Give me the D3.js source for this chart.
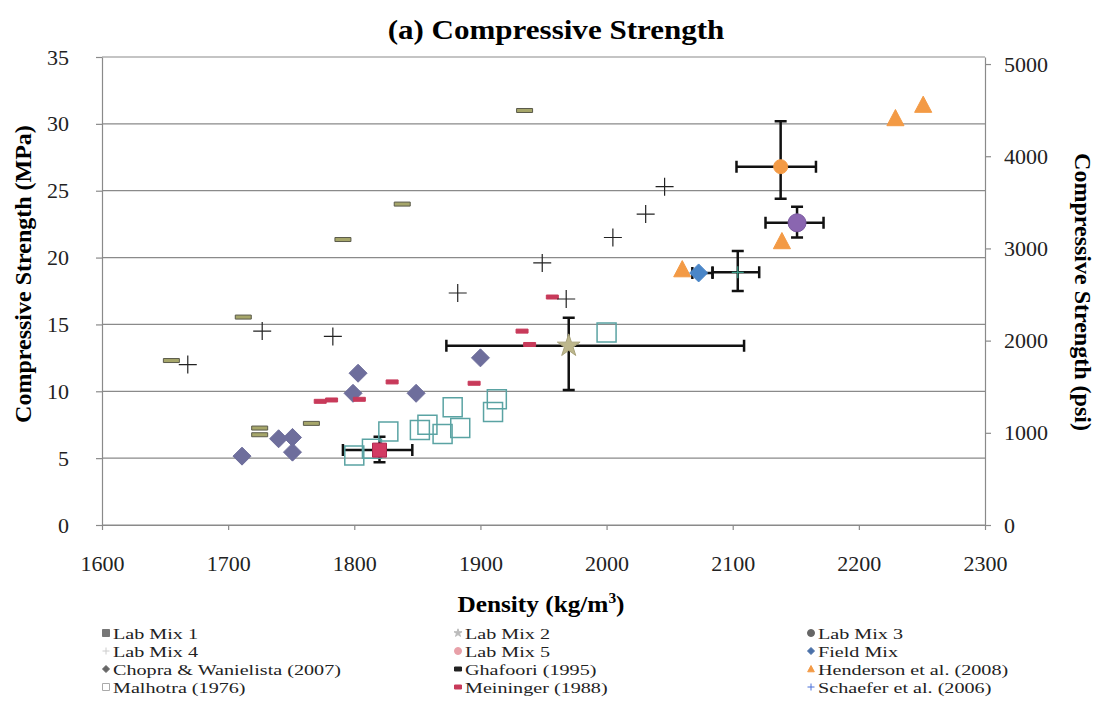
<!DOCTYPE html>
<html>
<head>
<meta charset="utf-8">
<script src="https://cdn.jsdelivr.net/npm/d3@7"></script>
<style>
  body { margin: 0; background: #fff; }
</style>
</head>
<body>
<div id="chart"></div>
<script>
// data: [density kg/m3, strength MPa]
var labMix1 = [[1820, 5.6]];
var labMix2 = [[1970, 13.4]];
var labMix3 = [[2151, 22.6]];
var labMix4 = [[2104, 18.9]];
var labMix5 = [[2138, 26.8]];
var fieldMix = [[2073, 18.85]];
var chopra = [[1711, 5.15], [1740, 6.45], [1751, 6.55], [1751, 5.45], [1799, 9.85], [1803, 11.35], [1849, 9.85], [1900, 12.5]];
var ghafoori = [[1655, 12.3], [1712, 15.55], [1791, 21.35], [1838, 24.0], [1935, 31.0], [1725, 7.25], [1725, 6.75], [1766, 7.6]];
var henderson = [[2060, 19.1], [2139, 21.2], [2229, 30.4], [2251, 31.4]];
var malhotra = [[1800, 5.2], [1814, 5.7], [1827, 7.0], [1852, 7.1], [1858, 7.5], [1870, 6.8], [1878, 8.8], [1884, 7.25], [1910, 8.45], [1913, 9.4], [2000, 14.4]];
var meininger = [[1773, 9.25], [1782, 9.35], [1804, 9.4], [1830, 10.7], [1895, 10.6], [1933, 14.5], [1939, 13.5], [1957, 17.05]];
var schaefer = [[1668, 12.0], [1727, 14.5], [1783, 14.1], [1882, 17.35], [1949, 19.6], [1968, 16.9], [2005, 21.5], [2031, 23.25], [2046, 25.3]];

// error bars: [x, y, xLow, xHigh, yLow, yHigh]
var errorBars = [
  [1820, 5.6, 1791, 1846, 4.7, 6.6],
  [1970, 13.4, 1873, 2109, 10.1, 15.5],
  [2104, 18.9, 2084, 2121, 17.5, 20.5],
  [2073, 18.85, 2068, 2084, 18.85, 18.85],
  [2138, 26.8, 2103, 2166, 24.4, 30.2],
  [2151, 22.6, 2126, 2172, 21.5, 23.8]
];

var xTicks = [1600, 1700, 1800, 1900, 2000, 2100, 2200, 2300];
var yTicks = [0, 5, 10, 15, 20, 25, 30, 35];
var psiTicks = [0, 1000, 2000, 3000, 4000, 5000];

var legendNames = ["Lab Mix 1", "Lab Mix 2", "Lab Mix 3", "Lab Mix 4", "Lab Mix 5", "Field Mix",
  "Chopra & Wanielista (2007)", "Ghafoori (1995)", "Henderson et al. (2008)",
  "Malhotra (1976)", "Meininger (1988)", "Schaefer et al. (2006)"];

var fontFam = "Liberation Serif";

// set the dimensions and margins of the graph
var margin = {top: 57, right: 121, bottom: 192, left: 102},
    width = 1106 - margin.left - margin.right,
    height = 717 - margin.top - margin.bottom;

var svg = d3.select("#chart")
  .append("svg")
  .attr("width", 1106)
  .attr("height", 717);

var g = svg.append("g")
  .attr("transform", "translate(" + margin.left + "," + margin.top + ")");

var x = d3.scaleLinear().domain([1600, 2300]).range([0, width]);
var y = d3.scaleLinear().domain([0, 35]).range([height, 0]);
var yPsi = d3.scaleLinear().domain([0, 35 * 145.038]).range([height, 0]);

// gridlines
g.selectAll(".grid")
  .data(yTicks)
  .enter().append("line")
  .attr("x1", 0).attr("x2", width)
  .attr("y1", function(d) { return y(d); })
  .attr("y2", function(d) { return y(d); })
  .attr("stroke", "#8a8a8a")
  .attr("stroke-width", 1.2);

function styleAxis(sel) {
  sel.attr("font-family", null).attr("font-size", null);
  sel.selectAll("path, line").attr("stroke", "#8a8a8a").attr("stroke-width", 1.2);
  sel.selectAll("text")
    .style("font-family", fontFam)
    .style("font-size", "22px")
    .attr("fill", "#222");
}

g.append("g")
  .attr("transform", "translate(0," + height + ")")
  .call(d3.axisBottom(x).tickValues(xTicks).tickFormat(d3.format("d")).tickSize(5).tickPadding(25).tickSizeOuter(0))
  .call(styleAxis);

g.append("g")
  .call(d3.axisLeft(y).tickValues(yTicks).tickFormat(d3.format("d")).tickSize(6).tickPadding(27).tickSizeOuter(0))
  .call(styleAxis);

g.append("g")
  .attr("transform", "translate(" + width + ",0)")
  .call(d3.axisRight(yPsi).tickValues(psiTicks).tickFormat(d3.format("d")).tickSize(6).tickPadding(13).tickSizeOuter(0))
  .call(styleAxis);

// symbols
var shapes = {
  square: function(s) { return "M" + (-s) + "," + (-s) + "H" + s + "V" + s + "H" + (-s) + "Z"; },
  diamond: function(s) { return "M0," + (-s) + "L" + s + ",0L0," + s + "L" + (-s) + ",0Z"; },
  triangle: function(s) { return "M0," + (-s) + "L" + (s * 0.95) + "," + (s * 0.8) + "L" + (-s * 0.95) + "," + (s * 0.8) + "Z"; },
  circle: function(s) { return d3.symbol(d3.symbolCircle, Math.PI * s * s)(); },
  star: function(s) { return d3.symbol(d3.symbolStar, s * s * 1.6)(); },
  plus: function(s) { return "M" + (-s) + ",0H" + s + "M0," + (-s) + "V" + s; },
  dash: function(s) { return "M" + (-s) + ",-2H" + s + "V2H" + (-s) + "Z"; }
};

var series = [
  {data: labMix1, shape: "square", size: 7, fill: "#d23a63", stroke: "#b02850"},
  {data: labMix2, shape: "star", size: 10, fill: "#bdb78c", stroke: "#a8a27a"},
  {data: labMix3, shape: "circle", size: 9, fill: "#8a66b0", stroke: "#7a58a0"},
  {data: labMix4, shape: "plus", size: 6, fill: "none", stroke: "#3a9a86"},
  {data: labMix5, shape: "circle", size: 7, fill: "#f39a45", stroke: "#f39a45"},
  {data: fieldMix, shape: "diamond", size: 9, fill: "#4a86c8", stroke: "#4a86c8"},
  {data: chopra, shape: "diamond", size: 9, fill: "#6e6e9c", stroke: "#6e6e9c"},
  {data: ghafoori, shape: "dash", size: 8, fill: "#a6a66a", stroke: "#5a5a4a"},
  {data: henderson, shape: "triangle", size: 9, fill: "#f39a45", stroke: "#f39a45"},
  {data: malhotra, shape: "square", size: 9.5, fill: "none", stroke: "#5aa3a3"},
  {data: meininger, shape: "dash", size: 6, fill: "#c83a5a", stroke: "#c83a5a"},
  {data: schaefer, shape: "plus", size: 9, fill: "none", stroke: "#222"}
];

// legend marker colours as they appear in the picture's legend
var legendColors = ["#777", "#bbb", "#666", "#ccc", "#e8a0a8", "#4a70a8",
  "#666", "#222", "#f39a45", "#aaa", "#c83a5a", "#4a70d8"];

var drawOrder = [9, 6, 7, 10, 11, 8, 0, 1, 2, 3, 4, 5];

// error bars (drawn under lab mix markers)
var eb = g.append("g").attr("stroke", "#111").attr("stroke-width", 2.5).attr("fill", "none");
errorBars.forEach(function(e) {
  var cy = y(e[1]), cx = x(e[0]);
  if (e[3] > e[2]) {
    eb.append("path").attr("d",
      "M" + x(e[2]) + "," + cy + "H" + x(e[3]) +
      "M" + x(e[2]) + "," + (cy - 6) + "V" + (cy + 6) +
      "M" + x(e[3]) + "," + (cy - 6) + "V" + (cy + 6));
  }
  if (e[5] > e[4]) {
    eb.append("path").attr("d",
      "M" + cx + "," + y(e[4]) + "V" + y(e[5]) +
      "M" + (cx - 6) + "," + y(e[4]) + "H" + (cx + 6) +
      "M" + (cx - 6) + "," + y(e[5]) + "H" + (cx + 6));
  }
});

drawOrder.forEach(function(i) {
  var s = series[i];
  g.append("g").selectAll("path")
    .data(s.data)
    .enter().append("path")
    .attr("transform", function(d) { return "translate(" + x(d[0]) + "," + y(d[1]) + ")"; })
    .attr("d", shapes[s.shape](s.size))
    .attr("fill", s.fill)
    .attr("stroke", s.stroke)
    .attr("stroke-width", s.shape == "plus" ? 1.2 : (s.fill == "none" ? 1.5 : 1));
});

// titles
svg.append("text")
  .attr("transform", "translate(556,39) scale(1.15,1)")
  .attr("text-anchor", "middle")
  .style("font-family", fontFam).style("font-size", "27px").style("font-weight", "bold")
  .text("(a)  Compressive Strength");

svg.append("text")
  .attr("transform", "translate(31,274) rotate(-90)")
  .attr("text-anchor", "middle")
  .style("font-family", fontFam).style("font-size", "24px").style("font-weight", "bold")
  .text("Compressive Strength (MPa)");

svg.append("text")
  .attr("transform", "translate(1075,292) rotate(90)")
  .attr("text-anchor", "middle")
  .style("font-family", fontFam).style("font-size", "24px").style("font-weight", "bold")
  .text("Compressive Strength (psi)");

var xl = svg.append("text")
  .attr("transform", "translate(541,612) scale(1.1,1)")
  .attr("text-anchor", "middle")
  .style("font-family", fontFam).style("font-size", "23px").style("font-weight", "bold");
xl.append("tspan").text("Density (kg/m");
xl.append("tspan").style("font-size", "14px").attr("dy", -9).text("3");
xl.append("tspan").attr("dy", 9).text(")");

// legend
var colX = [106, 458, 811];
var rowY = [639, 657, 675, 693];
var legend = svg.append("g");
legendNames.forEach(function(name, i) {
  var s = series[i];
  var lx = colX[i % 3], ly = rowY[Math.floor(i / 3)];
  var open = s.fill == "none";
  legend.append("path")
    .attr("transform", "translate(" + lx + "," + (ly - 6) + ")")
    .attr("d", shapes[s.shape](3.5))
    .attr("fill", open ? "none" : legendColors[i])
    .attr("stroke", legendColors[i])
    .attr("stroke-width", 1);
  legend.append("text")
    .attr("transform", "translate(" + (lx + 7) + "," + ly + ") scale(1.3,1)")
    .style("font-family", fontFam).style("font-size", "15.5px")
    .attr("fill", "#222")
    .text(name);
});
</script>
</body>
</html>
